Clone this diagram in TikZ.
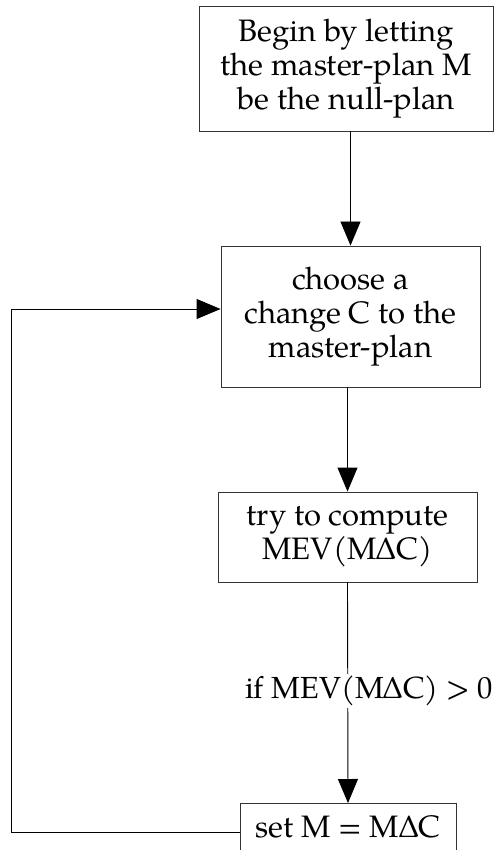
\documentclass[tikz,border=0pt]{standalone}
\usepackage{fontspec}
\setmainfont{TeX Gyre Pagella}
\usetikzlibrary{arrows.meta}
\begin{document}
\begin{tikzpicture}[x=1pt,y=-1pt,
  box/.style={draw=black!80, line width=0.9pt, align=center, inner sep=0pt,
              font=\fontsize{31}{34}\selectfont},
  arr/.style={line width=0.9pt, -{Triangle[length=24pt,width=20pt]}},
  lbl/.style={fill=white, font=\fontsize{30.5}{34}\selectfont, inner sep=2pt}]
\useasboundingbox (0,0) rectangle (496,850);
\clip (0,0) rectangle (496,850);
\node[box, minimum width=294pt, minimum height=125pt] (b1) at (346,68.5)
  {Begin by letting\\the master-plan M\\be the null-plan};
\node[box, minimum width=259pt, minimum height=141pt] (b2) at (350.5,316.5)
  {choose a\\change C to the\\master-plan};
\node[box, minimum width=259pt, minimum height=90pt] (b3) at (347.5,537)
  {try to compute\\MEV(MΔC)};
\node[box, anchor=north, minimum width=216pt, text height=20pt, text depth=40pt,
      inner ysep=14pt] (b4) at (348,803) {set M = MΔC};
\draw[arr] (b2.north |- b1.south) -- (b2.north);
\draw[arr] (b3.north |- b2.south) -- (b3.north);
\draw[arr] (b3.south) -- node[lbl, xshift=21pt, yshift=2pt] (c) {if MEV(MΔC) > 0} (b4.north);
\draw[arr] ([yshift=-29pt]b4.north west) -- ++(-228,0) |- ([yshift=7.5pt]b2.west);
\end{tikzpicture}
\end{document}
